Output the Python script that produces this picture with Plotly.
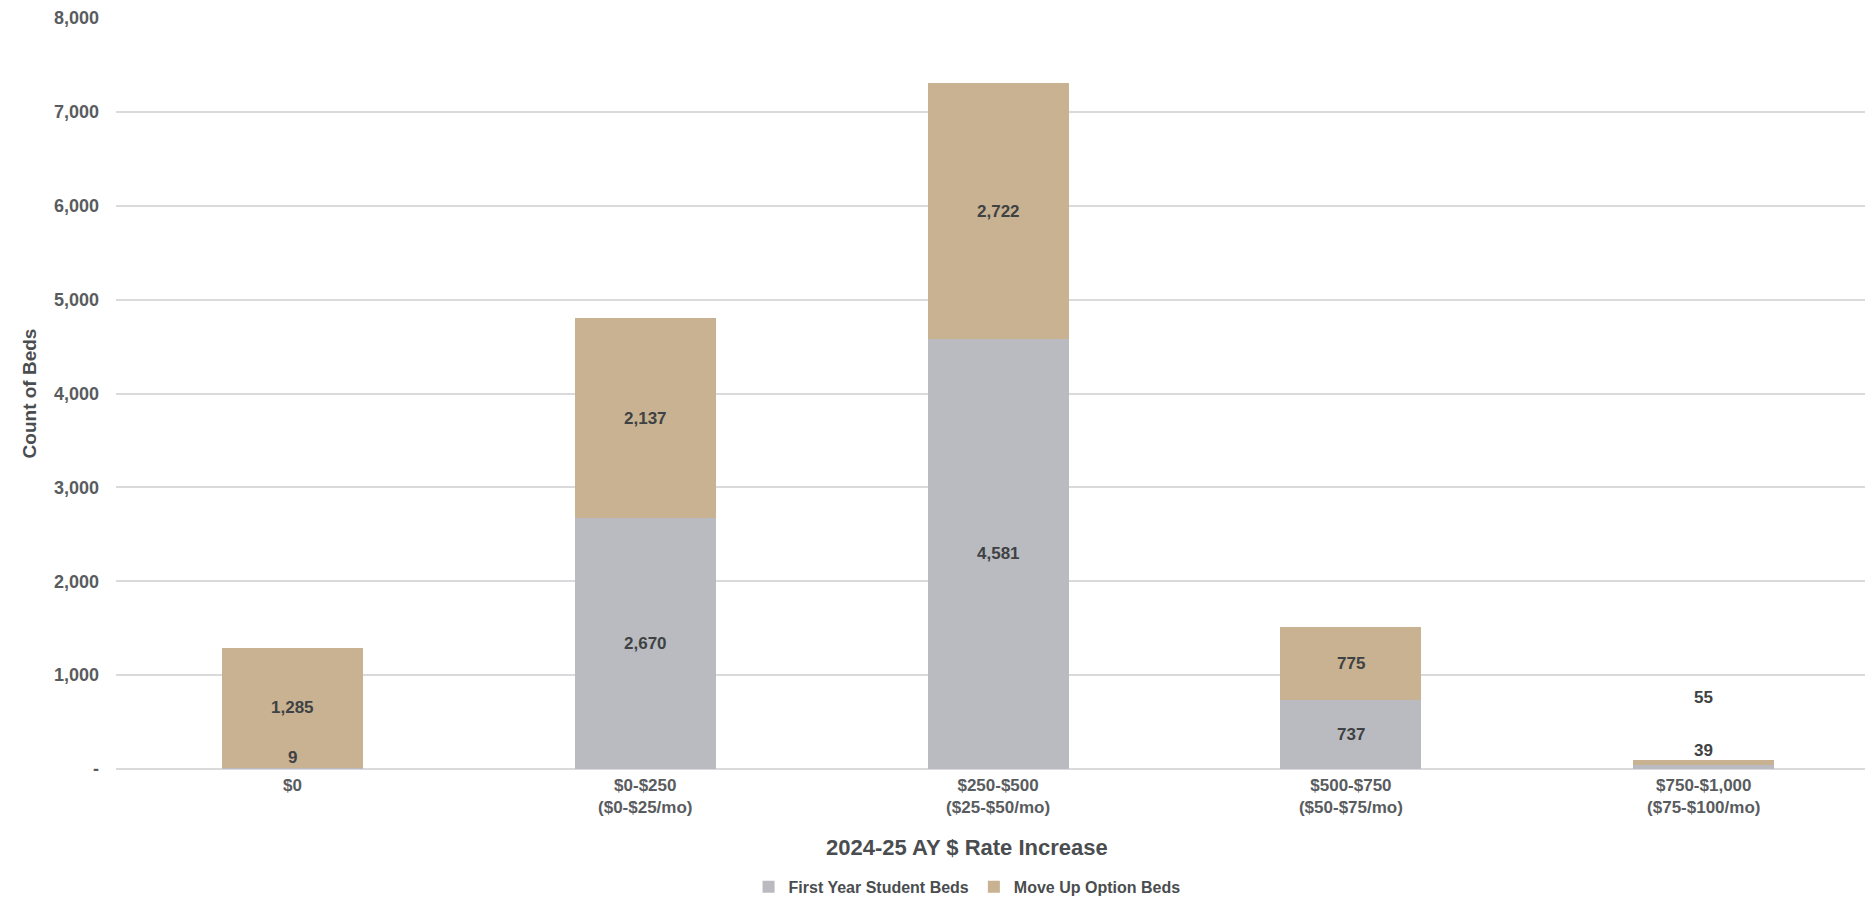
import plotly.graph_objects as go

categories = ["$0", "$0-$250<br>($0-$25/mo)", "$250-$500<br>($25-$50/mo)",
              "$500-$750<br>($50-$75/mo)", "$750-$1,000<br>($75-$100/mo)"]
first_year_beds = [9, 2670, 4581, 737, 39]
move_up_beds = [1285, 2137, 2722, 775, 55]
y_tick_values = [0, 1000, 2000, 3000, 4000, 5000, 6000, 7000, 8000]
y_tick_labels = ["-", "1,000", "2,000", "3,000", "4,000", "5,000", "6,000", "7,000", "8,000"]

GRAY = "#BABBC0"
TAN = "#C8B291"
FONT = "Liberation Sans"
LABEL_COLOR = "#3F4244"
TICK_COLOR = "#595C5E"

# pixel nudges for labels of segments too thin to hold them (series index, category index)
label_shift = {(0, 0): 11, (0, 4): 17, (1, 4): 65}

x_idx = list(range(len(categories)))

fig = go.Figure()
fig.add_trace(go.Bar(x=x_idx, y=first_year_beds, name="First Year Student Beds",
                     marker=dict(color=GRAY, line=dict(width=0)), width=0.4))
fig.add_trace(go.Bar(x=x_idx, y=move_up_beds, name="Move Up Option Beds",
                     marker=dict(color=TAN, line=dict(width=0)), width=0.4))

annotations = []
for s, series in enumerate([first_year_beds, move_up_beds]):
    for i, v in enumerate(series):
        base = first_year_beds[i] if s == 1 else 0
        annotations.append(dict(
            x=i, y=base + v / 2, xref="x", yref="y", text=f"{v:,}", showarrow=False,
            yshift=label_shift.get((s, i), 0),
            font=dict(family=FONT, size=17, color=LABEL_COLOR, weight="bold")))

annotations.append(dict(
    x=0.4866, y=-0.1047, xref="paper", yref="paper", xanchor="center", yanchor="middle",
    text="2024-25 AY $ Rate Increase", showarrow=False,
    font=dict(family=FONT, size=22, color="#4A4D4F", weight="bold")))

fig.update_layout(
    width=1865, height=897,
    margin=dict(l=116, r=0, t=18, b=128, autoexpand=False),
    barmode="stack",
    plot_bgcolor="white", paper_bgcolor="white",
    annotations=annotations,
    showlegend=True,
    legend=dict(orientation="h", x=0.4866, y=0.0112, xref="paper", yref="container",
                xanchor="center", yanchor="middle",
                font=dict(family=FONT, size=16, color="#4A4D4F", weight="bold"),
                itemwidth=30, traceorder="normal"),
    xaxis=dict(range=[-0.5, 4.457], tickmode="array", tickvals=x_idx, ticktext=categories,
               showgrid=False, zeroline=False, showline=False, ticks="", automargin=False,
               tickfont=dict(family=FONT, size=17, color=TICK_COLOR, weight="bold"),
               ticklabelstandoff=4),
    yaxis=dict(range=[0, 8000], tickmode="array", tickvals=y_tick_values, ticktext=y_tick_labels,
               showgrid=True, gridcolor="#D9DADB", gridwidth=1.5,
               zeroline=True, zerolinecolor="#D9DADB", zerolinewidth=1.5,
               showline=False, ticks="", automargin=False,
               tickfont=dict(family=FONT, size=18, color=TICK_COLOR, weight="bold"),
               ticklabelstandoff=16,
               title=dict(text="Count of Beds", standoff=12,
                          font=dict(family=FONT, size=19, color="#4A4D4F", weight="bold"))),
    hovermode=False,
)

fig.write_html("out.html")
